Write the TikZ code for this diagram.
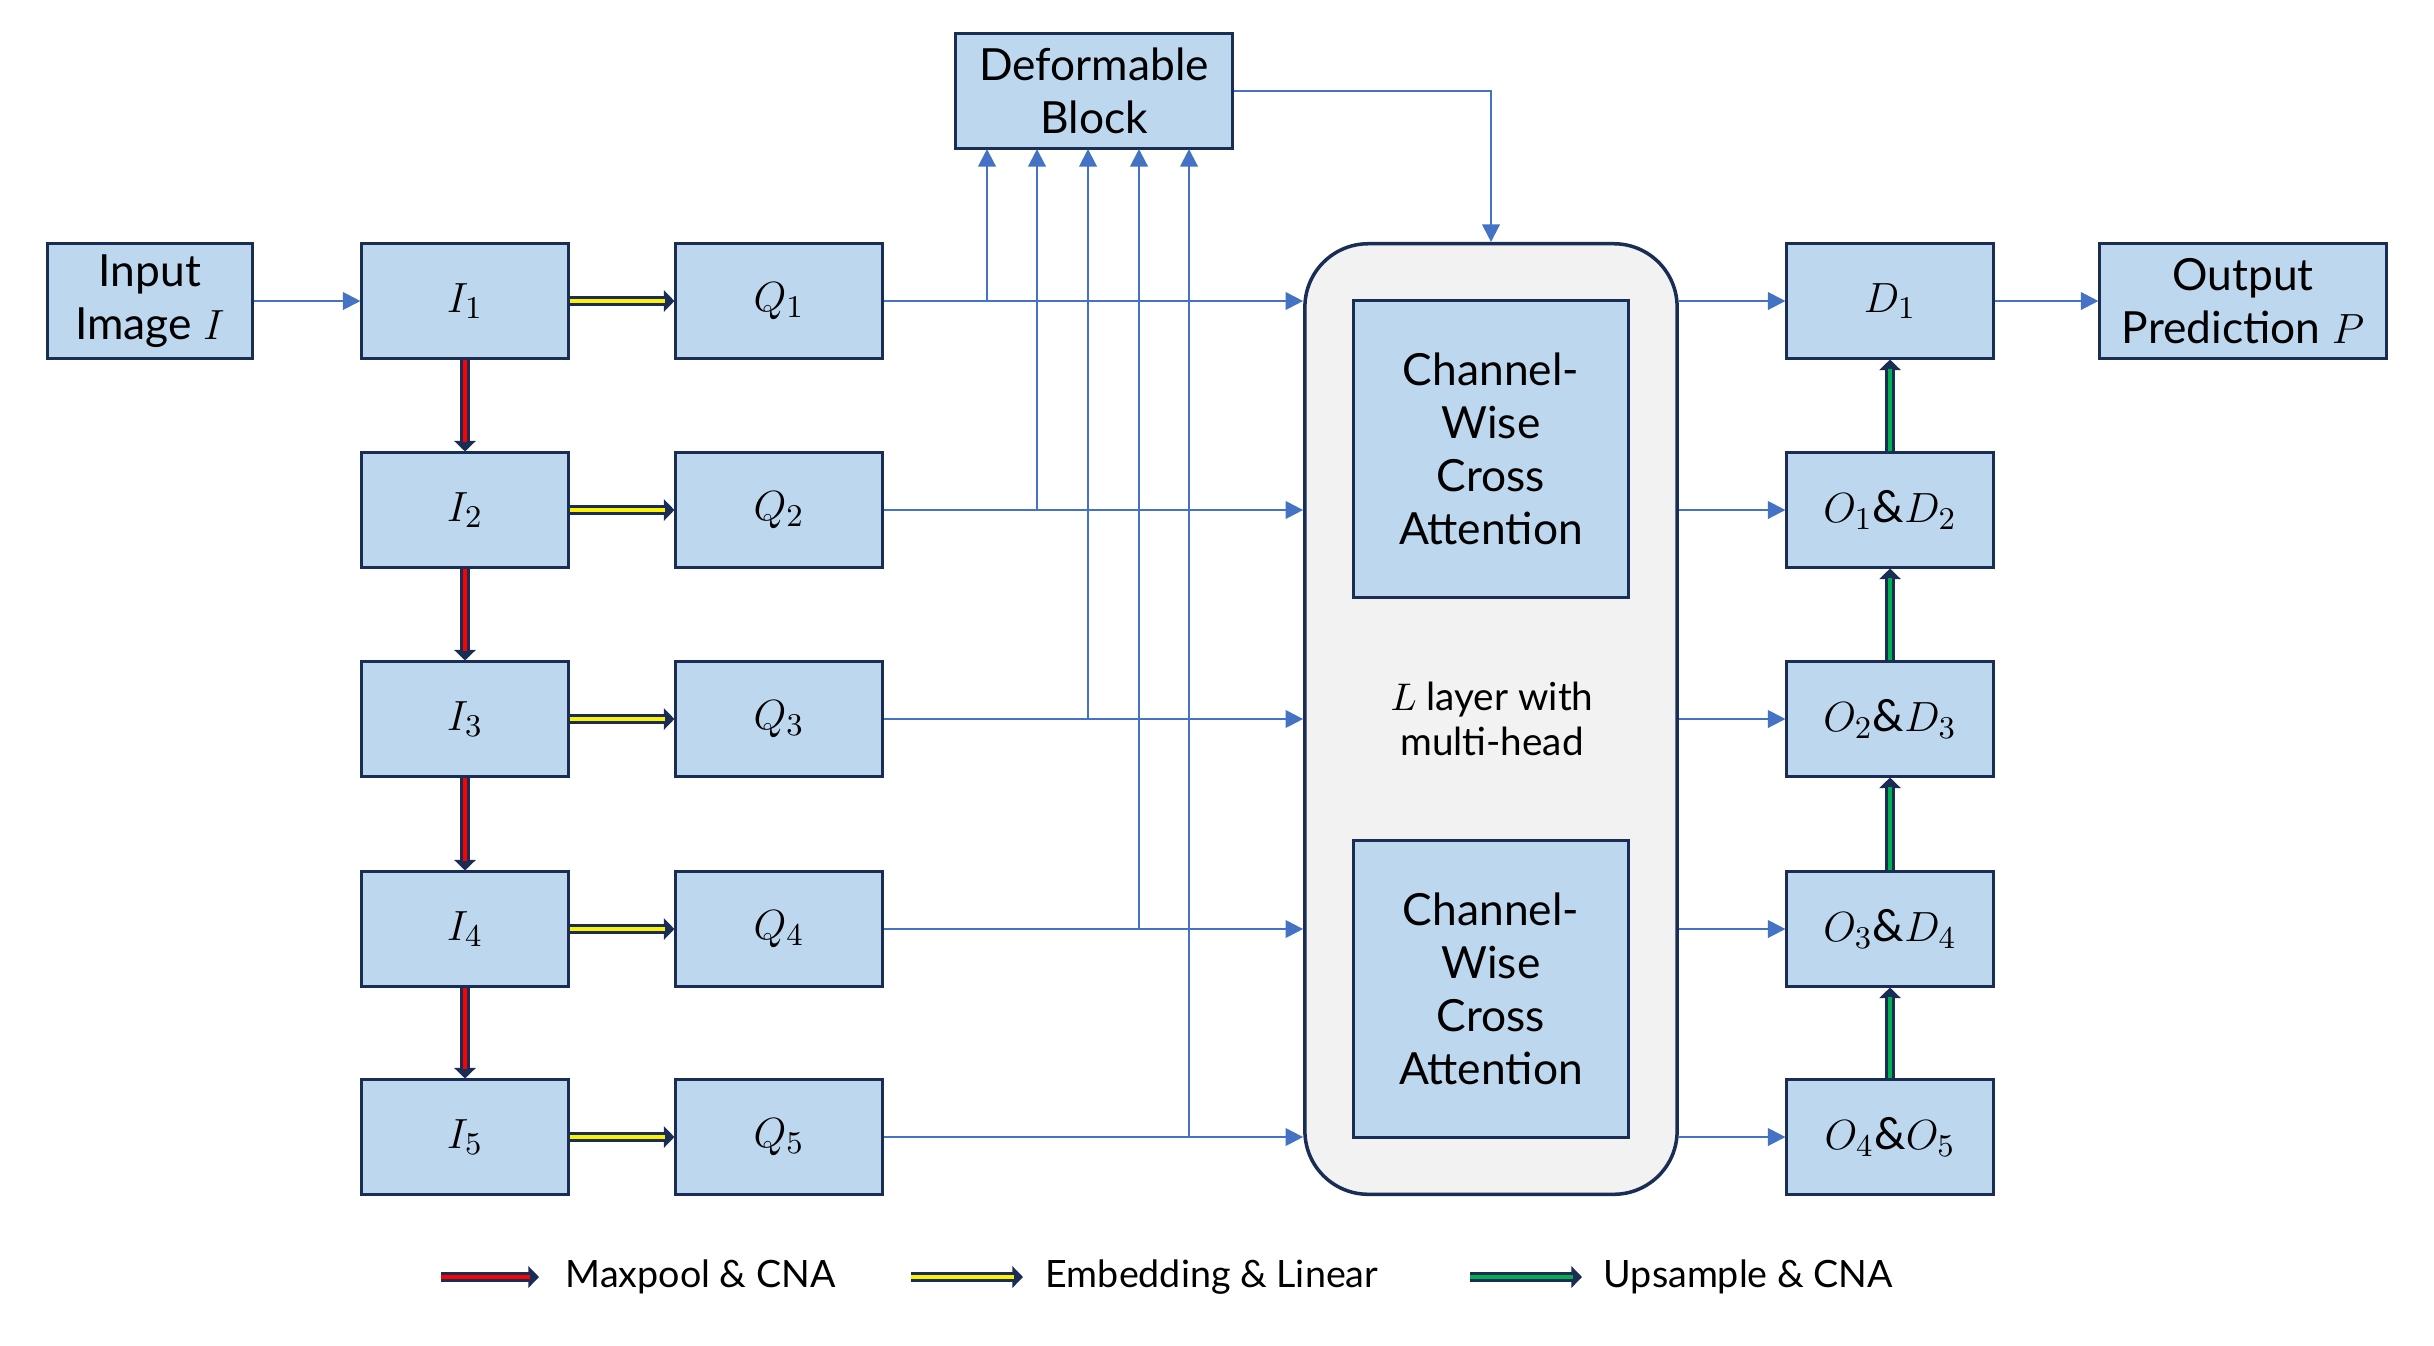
\documentclass[tikz,border=0pt]{standalone}
\usepackage{amsmath,amssymb}
\usepackage{fontspec}
\setmainfont{Lato}
\usepackage{xcolor}
\usetikzlibrary{arrows.meta}
\definecolor{boxfill}{HTML}{BDD7EE}
\definecolor{navy}{HTML}{1A2E55}
\definecolor{lineblue}{HTML}{4472C4}
\definecolor{panel}{HTML}{F2F2F2}
\definecolor{upgreen}{HTML}{00B050}

\begin{document}
\begin{tikzpicture}[x=0.01cm, y=-0.01cm,
  blk/.style={draw=navy, line width=0.85pt, fill=boxfill, align=center, inner sep=0pt,
    minimum width=2.06cm, minimum height=1.14cm, font=\fontsize{12.6}{15.1}\selectfont},
  conn/.style={draw=lineblue, line width=0.6pt, -{Triangle[length=5pt,width=5pt]}},
  fat/.style={draw=navy, line width=2.6pt, -{Triangle[length=3pt,width=6pt]},
    postaction={draw=#1, line width=1.1pt, -, shorten >=2.6pt}}]
\useasboundingbox (0,0) rectangle (2434,1345);
\node[blk, minimum width=2.05cm, minimum height=1.15cm] (inp) at (150,301) {Input\\Image $I$};
\node[blk, minimum width=2.77cm, minimum height=1.15cm] (def) at (1094,91) {Deformable\\Block};
\node[blk, minimum width=2.86cm, minimum height=1.15cm] (out) at (2243,301) {Output\\Prediction $P$};
\node[draw=navy, line width=1pt, fill=panel, rounded corners=18pt, minimum width=3.72cm, minimum height=9.5cm] (ca) at (1491,719) {};
\node[blk, minimum width=2.74cm, minimum height=2.97cm] (cw1) at (1491,449) {Channel-\\Wise\\Cross\\Attention};
\node[blk, minimum width=2.74cm, minimum height=2.97cm] (cw2) at (1491,989) {Channel-\\Wise\\Cross\\Attention};
\node[align=center, font=\fontsize{11}{12.8}\selectfont] (lay) at (1492,719) {$L$ layer with\\multi-head};
\foreach \k/\y in {1/301,2/510,3/719,4/929,5/1137} {
  \node[blk] (i\k) at (465,\y) {$I_{\k}$};
  \node[blk] (q\k) at (779,\y) {$Q_{\k}$};
}
\node[blk] (d1) at (1890,301) {$D_1$};
\node[blk] (d2) at (1890,510) {$O_1\&D_2$};
\node[blk] (d3) at (1890,719) {$O_2\&D_3$};
\node[blk] (d4) at (1890,929) {$O_3\&D_4$};
\node[blk] (d5) at (1890,1137) {$O_4\&O_5$};
\draw[conn] (inp) -- (i1);
\foreach \k in {1,...,5} {
  \draw[fat=yellow] (i\k.east) -- (q\k.west);
  \draw[conn] (q\k.east) -- (q\k -| ca.west);
  \draw[conn] (ca.east |- d\k) -- (d\k.west);
}
\foreach \a/\b in {1/2,2/3,3/4,4/5} {
  \draw[fat=red] (i\a.south) -- (i\b.north);
  \draw[fat=upgreen] (d\b.north) -- (d\a.south);
}
\foreach \k/\x in {1/987,2/1037,3/1088,4/1139,5/1189} {
  \coordinate (t\k) at (\x,149);
  \draw[conn] (t\k |- q\k) -- (t\k);
}
\draw[conn] (def.east) -| (ca.north);
\draw[conn] (d1) -- (out);
\coordinate (la1) at (441,1277); \coordinate (lb1) at (539,1277);
\coordinate (la2) at (911,1277); \coordinate (lb2) at (1023,1277);
\coordinate (la3) at (1470,1277); \coordinate (lb3) at (1582,1277);
\draw[fat=red] (la1) -- (lb1);
\draw[fat=yellow] (la2) -- (lb2);
\draw[fat=upgreen] (la3) -- (lb3);
\node[anchor=west, inner sep=0pt, font=\fontsize{10.7}{13}\selectfont] (t-max) at (565,1277) {Maxpool \& CNA};
\node[anchor=west, inner sep=0pt, font=\fontsize{10.7}{13}\selectfont] (t-emb) at (1045,1277) {Embedding \& Linear};
\node[anchor=west, inner sep=0pt, font=\fontsize{10.7}{13}\selectfont] (t-up) at (1603,1277) {Upsample \& CNA};
\end{tikzpicture}
\end{document}
